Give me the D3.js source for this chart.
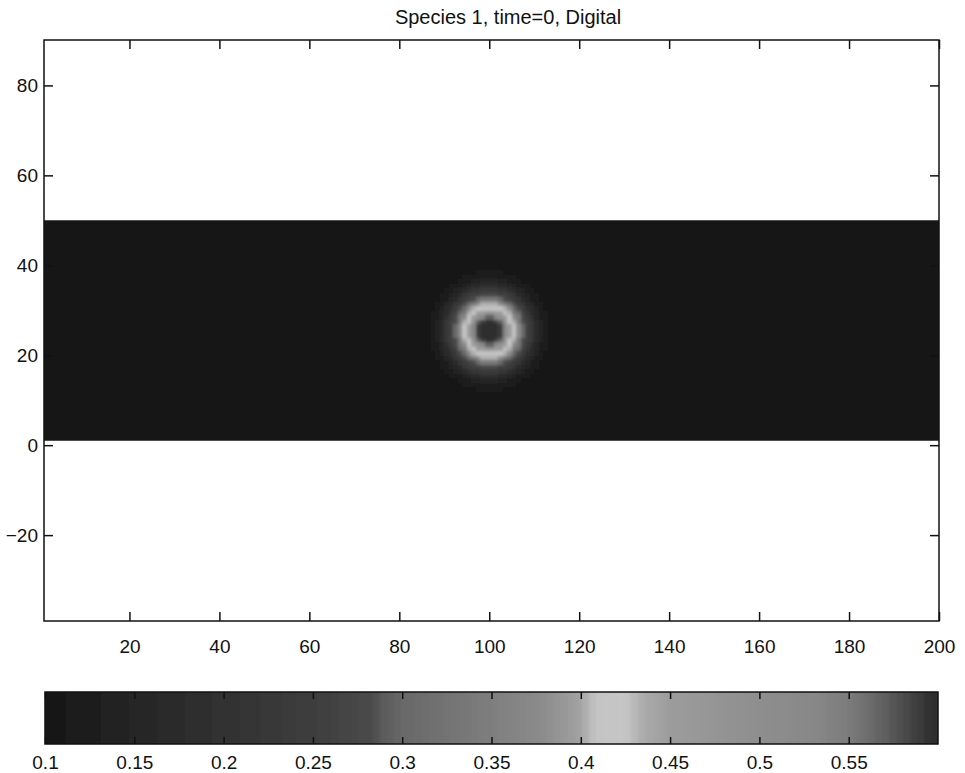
<!DOCTYPE html>
<html><head><meta charset="utf-8">
<script src="https://cdn.jsdelivr.net/npm/d3@7"></script>
<style>
body{margin:0;background:#fff}
svg text{font-family:"Liberation Sans",Arial,Helvetica,sans-serif;fill:#111}
</style>
</head><body>
<svg id="chart" width="965" height="773"></svg>
<script>
// ---------------- data ----------------
const titleText = "Species 1, time=0, Digital";
const xTicks = [20, 40, 60, 80, 100, 120, 140, 160, 180, 200];
const yTicks = [-20, 0, 20, 40, 60, 80];
const cbarTicks = [0.1, 0.15, 0.2, 0.25, 0.3, 0.35, 0.4, 0.45, 0.5, 0.55];
const gridXRange = [1, 200];          // grid columns (nodes)
const gridYRange = [1, 50];           // grid rows (nodes)
const spotCenter = [100, 25.5];       // centre of the spot (x, y)
const backgroundValue = 0.102;
const radialStep = 0.5;               // spacing of the radial profile below
// value of species 1 versus distance from the spot centre (0, 0.5, 1, ... units)
const radialProfile = [0.600, 0.600, 0.600, 0.600, 0.598, 0.590, 0.570, 0.530, 0.490, 0.450,
  0.425, 0.412, 0.403, 0.375, 0.335, 0.300, 0.280, 0.260, 0.240, 0.212,
  0.190, 0.170, 0.155, 0.140, 0.130, 0.120, 0.113, 0.108, 0.104, 0.102];
// grey levels of the colour map as printed
const cmapValues = [0.10, 0.12, 0.15, 0.20, 0.25, 0.283, 0.29, 0.30, 0.35, 0.38, 0.40, 0.408, 0.425, 0.435, 0.45, 0.50, 0.53, 0.55, 0.57, 0.59, 0.60];
const cmapGrays  = [0x15, 0x1c, 0x26, 0x31, 0x3e, 0x4a, 0x5e, 0x68, 0x7e, 0x8c, 0xa2, 0xc4, 0xc6, 0xaa, 0x9c, 0x8e, 0x88, 0x7c, 0x60, 0x3a, 0x2a];
const cbarDomain = [0.1, 0.6];

// ---------------- layout ----------------
const svg = d3.select("#chart");
const M = {left: 44, right: 939, top: 40, bottom: 621};
const CB = {left: 45, right: 938, top: 692, bottom: 744};

const x = d3.scaleLinear().domain([1, 200]).range([M.left, M.right]);
const y = d3.scaleLinear().domain([-39.1, 90.1]).range([M.bottom, M.top]);
const cbx = d3.scaleLinear().domain(cbarDomain).range([CB.left, CB.right]);

const grayScale = d3.scaleLinear().domain(cmapValues)
  .range(cmapGrays.map(g => d3.rgb(g, g, g).toString())).clamp(true);
const nLevels = 128;
function quant(v) {
  let t = (v - cbarDomain[0]) / (cbarDomain[1] - cbarDomain[0]);
  let k = Math.max(0, Math.min(nLevels - 1, Math.floor(t * nLevels)));
  return cbarDomain[0] + (k + 0.5) / nLevels * (cbarDomain[1] - cbarDomain[0]);
}
const color = v => grayScale(quant(v));

// ---------------- field ----------------
const cells = [];
for (let i = gridXRange[0]; i < gridXRange[1]; i++) {
  for (let j = gridYRange[0]; j < gridYRange[1]; j++) {
    const d = Math.hypot(i + 0.5 - spotCenter[0], j + 0.5 - spotCenter[1]);
    const k = Math.round(d / radialStep);
    const v = k < radialProfile.length ? radialProfile[k] : backgroundValue;
    cells.push({i, j, v});
  }
}
const defs = svg.append("defs");
defs.append("filter").attr("id", "soft").attr("x", "-2%").attr("y", "-5%")
  .attr("width", "104%").attr("height", "110%")
  .append("feGaussianBlur").attr("stdDeviation", 1.6);
defs.append("filter").attr("id", "softbar").attr("x", "-1%").attr("y", "-10%")
  .attr("width", "102%").attr("height", "120%")
  .append("feGaussianBlur").attr("stdDeviation", "1.5 0");
defs.append("clipPath").attr("id", "bandClip").append("rect")
  .attr("x", x(gridXRange[0])).attr("y", y(gridYRange[1]))
  .attr("width", x(gridXRange[1]) - x(gridXRange[0]))
  .attr("height", y(gridYRange[0]) - y(gridYRange[1]));
defs.append("clipPath").attr("id", "barClip").append("rect")
  .attr("x", CB.left).attr("y", CB.top)
  .attr("width", CB.right - CB.left).attr("height", CB.bottom - CB.top);
const gClip = svg.append("g").attr("clip-path", "url(#bandClip)");
const gField = gClip.append("g").attr("filter", "url(#soft)").attr("shape-rendering", "crispEdges");
// pad the outermost cells so the blur does not lighten the band edges
gField.selectAll("rect").data(cells).join("rect")
  .attr("x", d => x(d.i) - (d.i === gridXRange[0] ? 6 : 0))
  .attr("y", d => y(d.j + 1) - (d.j === gridYRange[1] - 1 ? 6 : 0))
  .attr("width", d => x(d.i + 1) - x(d.i) + 0.5 + (d.i === gridXRange[0] || d.i === gridXRange[1] - 1 ? 6 : 0))
  .attr("height", d => y(d.j) - y(d.j + 1) + 0.5 + (d.j === gridYRange[0] || d.j === gridYRange[1] - 1 ? 6 : 0))
  .attr("fill", d => color(d.v));

// ---------------- main axes ----------------
const fs = 19;
const gx = svg.append("g").attr("transform", `translate(0,${M.bottom})`)
  .call(d3.axisBottom(x).tickValues(xTicks).tickSizeInner(-9).tickSizeOuter(0).tickPadding(19));
const gxt = svg.append("g").attr("transform", `translate(0,${M.top})`)
  .call(d3.axisTop(x).tickValues(xTicks).tickSizeInner(-9).tickSizeOuter(0).tickFormat(""));
const gy = svg.append("g").attr("transform", `translate(${M.left},0)`)
  .call(d3.axisLeft(y).tickValues(yTicks).tickSizeInner(-9).tickSizeOuter(0).tickPadding(6)
    .tickFormat(d => d < 0 ? "\u2212" + Math.abs(d) : d));
const gyr = svg.append("g").attr("transform", `translate(${M.right},0)`)
  .call(d3.axisRight(y).tickValues(yTicks).tickSizeInner(-9).tickSizeOuter(0).tickFormat(""));
[gx, gxt, gy, gyr].forEach(g => {
  g.select(".domain").remove();
  g.selectAll("line").attr("stroke", "#111").attr("stroke-width", 1.5);
  g.selectAll("text").attr("font-size", fs).attr("fill", "#111");
});
svg.append("rect").attr("x", M.left).attr("y", M.top)
  .attr("width", M.right - M.left).attr("height", M.bottom - M.top)
  .attr("fill", "none").attr("stroke", "#111").attr("stroke-width", 1.5);

svg.append("text").attr("x", 508).attr("y", 24).attr("text-anchor", "middle")
  .attr("font-size", 20).text(titleText);

// ---------------- colour bar ----------------
const levels = d3.range(nLevels).map(k => cbarDomain[0] + k / nLevels * (cbarDomain[1] - cbarDomain[0]));
const step = (cbarDomain[1] - cbarDomain[0]) / nLevels;
svg.append("g").attr("clip-path", "url(#barClip)")
  .append("g").attr("filter", "url(#softbar)").attr("shape-rendering", "crispEdges")
  .selectAll("rect").data(levels).join("rect")
  .attr("x", (d, k) => cbx(d) - (k === 0 ? 6 : 0)).attr("y", CB.top)
  .attr("width", (d, k) => cbx(d + step) - cbx(d) + 0.5 + (k === 0 || k === nLevels - 1 ? 6 : 0))
  .attr("height", CB.bottom - CB.top)
  .attr("fill", d => grayScale(d + step / 2));
const gcb = svg.append("g").attr("transform", `translate(0,${CB.bottom})`)
  .call(d3.axisBottom(cbx).tickValues(cbarTicks).tickSizeInner(-7).tickSizeOuter(0).tickPadding(12)
    .tickFormat(d3.format("~g")));
const gcbt = svg.append("g").attr("transform", `translate(0,${CB.top})`)
  .call(d3.axisTop(cbx).tickValues(cbarTicks).tickSizeInner(-7).tickSizeOuter(0).tickFormat(""));
[gcb, gcbt].forEach(g => {
  g.select(".domain").remove();
  g.selectAll("line").attr("stroke", "#111").attr("stroke-width", 1.5);
  g.selectAll("text").attr("font-size", fs).attr("fill", "#111");
});
svg.append("rect").attr("x", CB.left).attr("y", CB.top)
  .attr("width", CB.right - CB.left).attr("height", CB.bottom - CB.top)
  .attr("fill", "none").attr("stroke", "#111").attr("stroke-width", 1.5);
</script>
</body></html>
